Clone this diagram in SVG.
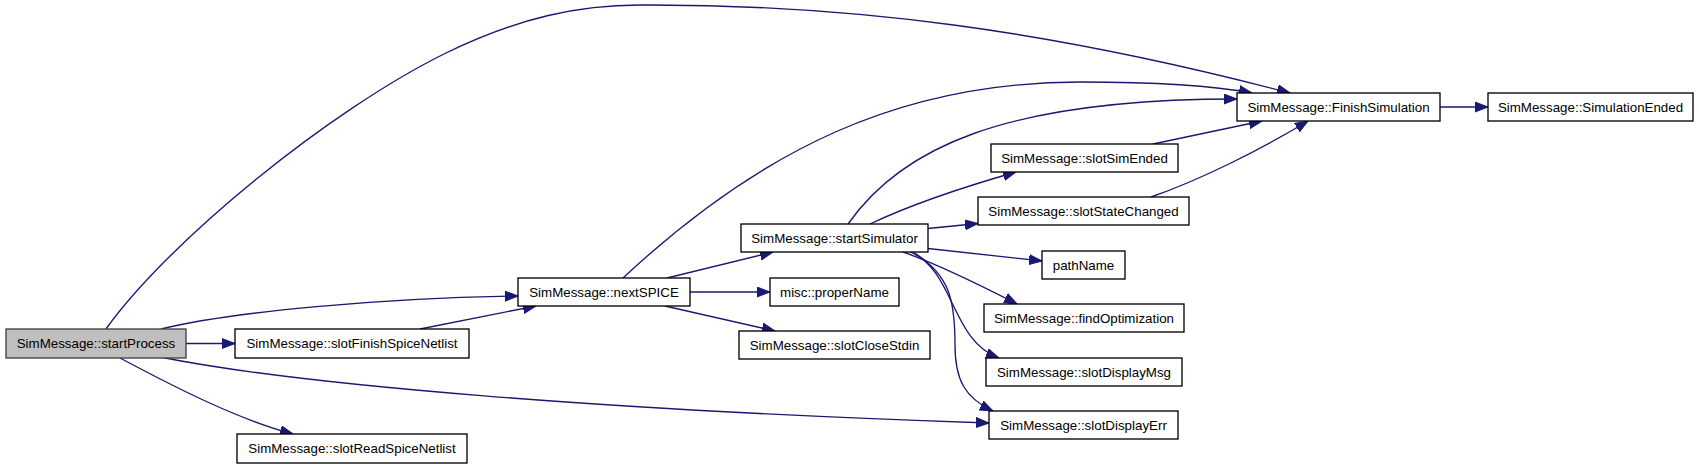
<svg xmlns="http://www.w3.org/2000/svg" width="1699" height="469" viewBox="0 0 1699 469">
<defs>
<marker id="ah" markerUnits="userSpaceOnUse" markerWidth="14" markerHeight="11" refX="13" refY="5" orient="auto" viewBox="0 0 14 10">
<path d="M0,0 L13,5 L0,10 Z" fill="#191970" stroke="#191970" stroke-width="1"/>
</marker>
</defs>
<style>
.n rect{fill:#ffffff;stroke:#000000;stroke-width:1.33}
.n.root rect{fill:#bfbfbf;stroke:#404040}
.n text{font-family:"Liberation Sans",Arial,Helvetica,sans-serif;font-size:13.33px;fill:#000000;text-anchor:middle}
.e path{fill:none;stroke:#191970;stroke-width:1.33;marker-end:url(#ah)}
</style>
<rect x="0" y="0" width="1699" height="469" fill="#ffffff"/>
<g id="connectors" class="e">
<path d="M106,329 C170,240 330,110 446,53 C520,17 580,5 640,5 C850,4 1050,30 1290,93"/>
<path d="M161,329 C230,312 380,298 518,296"/>
<path d="M186,343.5 L235,343.5"/>
<path d="M160,357 C300,385 600,410 989,423"/>
<path d="M120,358 C180,390 240,420 293,434"/>
<path d="M420,329 L536,306"/>
<path d="M623,278 C760,150 900,82 1080,82 C1160,82 1220,87 1252,93"/>
<path d="M667,278 L773,252"/>
<path d="M690,292 L770,292"/>
<path d="M665,306 L775,331"/>
<path d="M848,224 C900,150 1000,99 1237,99"/>
<path d="M870,224 C910,205 960,188 1016,172"/>
<path d="M928,228.5 L978,223.5"/>
<path d="M928,248.5 L1042,261"/>
<path d="M903,252 C940,265 980,285 1017,304"/>
<path d="M910,252 C955,270 950,340 999,358"/>
<path d="M913,252 C950,275 955,300 955,345 C955,380 965,398 993,411"/>
<path d="M1153,144 L1262,121"/>
<path d="M1151,197 C1200,180 1260,150 1308,121"/>
<path d="M1440,107 L1488,107"/>
</g>
<g id="node-startProcess" class="n root"><rect x="6" y="329" width="180" height="29"/><text x="96" y="348">SimMessage::startProcess</text></g>
<g id="node-slotFinishSpiceNetlist" class="n"><rect x="235" y="329" width="234" height="29"/><text x="352" y="348">SimMessage::slotFinishSpiceNetlist</text></g>
<g id="node-slotReadSpiceNetlist" class="n"><rect x="237" y="434" width="230" height="29"/><text x="352" y="453">SimMessage::slotReadSpiceNetlist</text></g>
<g id="node-nextSPICE" class="n"><rect x="518" y="278" width="172" height="28"/><text x="604" y="296.5">SimMessage::nextSPICE</text></g>
<g id="node-startSimulator" class="n"><rect x="741" y="224" width="187" height="28"/><text x="834.5" y="242.5">SimMessage::startSimulator</text></g>
<g id="node-properName" class="n"><rect x="770" y="278" width="129" height="28"/><text x="834.5" y="296.5">misc::properName</text></g>
<g id="node-slotCloseStdin" class="n"><rect x="739" y="331" width="191" height="28"/><text x="834.5" y="349.5">SimMessage::slotCloseStdin</text></g>
<g id="node-FinishSimulation" class="n"><rect x="1237" y="93" width="203" height="28"/><text x="1338.5" y="111.5">SimMessage::FinishSimulation</text></g>
<g id="node-SimulationEnded" class="n"><rect x="1488" y="93" width="205" height="28"/><text x="1590.5" y="111.5">SimMessage::SimulationEnded</text></g>
<g id="node-slotSimEnded" class="n"><rect x="991" y="144" width="187" height="28"/><text x="1084.5" y="162.5">SimMessage::slotSimEnded</text></g>
<g id="node-slotStateChanged" class="n"><rect x="978" y="197" width="211" height="28"/><text x="1083.5" y="215.5">SimMessage::slotStateChanged</text></g>
<g id="node-pathName" class="n"><rect x="1042" y="251" width="83" height="28"/><text x="1083.5" y="269.5">pathName</text></g>
<g id="node-findOptimization" class="n"><rect x="984" y="304" width="200" height="28"/><text x="1084" y="322.5">SimMessage::findOptimization</text></g>
<g id="node-slotDisplayMsg" class="n"><rect x="986" y="358" width="196" height="28"/><text x="1084" y="376.5">SimMessage::slotDisplayMsg</text></g>
<g id="node-slotDisplayErr" class="n"><rect x="989" y="411" width="189" height="28"/><text x="1083.5" y="429.5">SimMessage::slotDisplayErr</text></g>
</svg>
